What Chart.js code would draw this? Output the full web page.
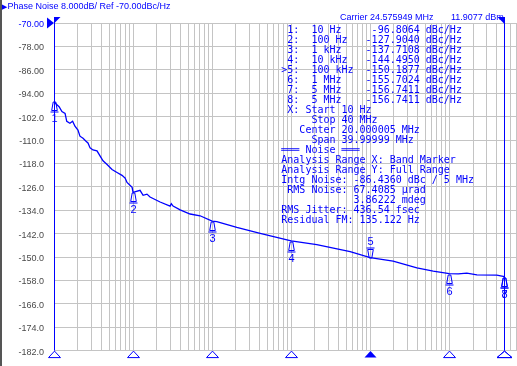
<!DOCTYPE html>
<html><head><meta charset="utf-8">
<script src="https://cdn.jsdelivr.net/npm/chart.js@4/dist/chart.umd.min.js"></script>
<style>
html,body{margin:0;padding:0;background:#fff;overflow:hidden;}
#wrap{position:relative;width:517px;height:366px;overflow:hidden;}
canvas{position:absolute;left:0;top:0;}
.t{position:absolute;color:#0000ff;white-space:pre;font-family:"Liberation Sans",Arial,sans-serif;font-size:9px;line-height:9px;}
#block{position:absolute;left:281.3px;top:25px;color:#0000ff;white-space:pre;font-family:"DejaVu Sans Mono",monospace;font-size:10px;line-height:10px;margin:0;}
#lb{position:absolute;left:0;top:0;width:2px;height:366px;background:#555;}
</style></head>
<body><div id="wrap">
<canvas id="c" width="517" height="366"></canvas>
<div class="t" style="left:2px;top:2.4px"><span style="font-family:'DejaVu Sans';font-size:7px">▶</span>Phase Noise 8.000dB/ Ref -70.00dBc/Hz</div>
<div class="t" style="left:340px;top:13px">Carrier 24.575949 MHz</div>
<div class="t" style="left:451px;top:13px">11.9077 dBm</div>
<pre id="block"></pre>
<div id="lb"></div>
</div>
<script>
// ---- data ----
const traceHz = [10, 10.8, 11.6, 12.6, 13.8, 14.5, 15.9, 17.2, 18.4, 20.1, 21.3, 23.3, 25.4, 26.9, 28.6, 31.1, 35.0, 38.2, 41.7, 46.9, 54.2, 62.7, 72.5, 76, 79.2, 83.9, 97.3, 100, 122.6, 134, 150, 164, 220, 294, 305, 321, 394, 527, 705, 1000, 1146, 2054, 4053, 10000, 21100, 55800, 100000, 195000, 390000, 627000, 1000000, 1300000, 1670000, 2240000, 4000000, 5000000];
const traceDb = [-96.8, -97.9, -98.6, -100.3, -100.9, -103.6, -104.3, -103.6, -105.3, -106.6, -108.7, -109.4, -110.4, -111.0, -112.7, -113.4, -113.7, -115.4, -117.1, -118.4, -120.1, -121.1, -122.1, -122.6, -123.0, -124.5, -126.2, -127.9, -127.2, -128.9, -128.5, -129.5, -131.2, -132.6, -131.8, -132.6, -133.9, -135.3, -135.9, -137.7, -137.9, -139.9, -141.9, -144.5, -145.8, -148.2, -150.19, -151.4, -153.7, -154.8, -155.7, -155.8, -155.5, -156.1, -156.2, -156.74];

const markerIds = ['1', '2', '3', '4', '5', '6', '7', '8'];
const markerHz = [10, 100, 1000, 10000, 100000, 1000000, 5000000, 5000000];
const markerHzText = ['10 Hz', '100 Hz', '1 kHz', '10 kHz', '100 kHz', '1 MHz', '5 MHz', '5 MHz'];
const markerDb = [-96.8064, -127.9040, -137.7108, -144.4950, -150.1877, -155.7024, -156.7411, -156.7411];
const activeMarker = 4;
const bandHz = [10, 5000000];

const yTickValues = [-70, -78, -86, -94, -102, -110, -118, -126, -134, -142, -150, -158, -166, -174, -182];
const yTickLabels = ['-70.00', '-78.00', '-86.00', '-94.00', '-102.0', '-110.0', '-118.0', '-126.0', '-134.0', '-142.0', '-150.0', '-158.0', '-166.0', '-174.0', '-182.0'];

const infoLines = [
  ' X: Start 10 Hz',
  '     Stop 40 MHz',
  '   Center 20.000005 MHz',
  '     Span 39.99999 MHz',
  '═══ Noise ═══',
  'Analysis Range X: Band Marker',
  'Analysis Range Y: Full Range',
  'Intg Noise: -86.4360 dBc / 5 MHz',
  ' RMS Noise: 67.4085 µrad',
  '            3.86222 mdeg',
  'RMS Jitter: 436.54 fsec',
  'Residual FM: 135.122 Hz'
];

const xMinHz = 10, xMaxHz = 7.2e6;
const BLUE = '#0000ff';
const GRID = '#c4c4c4';

// ---- marker table text ----
const tableLines = markerIds.map((id, i) =>
  ((i === activeMarker ? '>' : ' ') + id + ':  ' + markerHzText[i]).padEnd(14) +
  markerDb[i].toFixed(4).padStart(9) + ' dBc/Hz');
document.getElementById('block').textContent = tableLines.concat(infoLines).join('\n');

// ---- overlay plugin: markers, band marker lines ----
const overlay = {
  id: 'overlay',
  afterDatasetsDraw(chart) {
    const { ctx, chartArea: a, scales: { x, y } } = chart;
    ctx.save();
    ctx.strokeStyle = BLUE; ctx.fillStyle = BLUE; ctx.lineWidth = 1;
    // band marker vertical lines
    bandHz.forEach((f, k) => {
      const px = Math.round(x.getPixelForValue(f)) + 0.5;
      ctx.beginPath(); ctx.moveTo(px, a.top - 6); ctx.lineTo(px, a.bottom); ctx.stroke();
      ctx.beginPath();
      const s = k === 0 ? 1 : -1;
      ctx.moveTo(px - 0.5, a.top - 6); ctx.lineTo(px - 0.5 + s * 6.5, a.top - 6); ctx.lineTo(px - 0.5, a.top + 0.5); ctx.closePath(); ctx.fill();
    });
    // reference level arrow
    const ry = y.getPixelForValue(yTickValues[0]);
    ctx.beginPath(); ctx.moveTo(a.left - 7, ry - 5.5); ctx.lineTo(a.left, ry); ctx.lineTo(a.left - 7, ry + 5.5); ctx.closePath(); ctx.fill();
    // trace markers
    ctx.font = '11px "Liberation Sans", Arial, sans-serif';
    ctx.textAlign = 'center'; ctx.textBaseline = 'middle';
    markerHz.forEach((f, i) => {
      const px = Math.round(x.getPixelForValue(f)) + 0.5;
      const py = Math.round(y.getPixelForValue(markerDb[i])) + 0.5;
      const d = i === activeMarker ? -1 : 1;
      ctx.beginPath();
      ctx.moveTo(px - 1.3, py + d * 0.5); ctx.lineTo(px + 1.3, py + d * 0.5);
      ctx.lineTo(px + 2.8, py + d * 9); ctx.lineTo(px - 2.8, py + d * 9); ctx.closePath(); ctx.stroke();
      ctx.beginPath(); ctx.moveTo(px - 4, py + d * 10.5); ctx.lineTo(px + 4, py + d * 10.5); ctx.stroke();
      ctx.fillText(markerIds[i], px, py + d * 17);
      // stimulus indicator at bottom
      const hw = i >= 6 ? 7.5 : 6;
      ctx.beginPath(); ctx.moveTo(px, a.bottom + 0.5); ctx.lineTo(px + hw, a.bottom + 7); ctx.lineTo(px - hw, a.bottom + 7); ctx.closePath();
      if (i === activeMarker) ctx.fill(); else ctx.stroke();
    });
    ctx.restore();
  }
};

new Chart(document.getElementById('c'), {
  type: 'line',
  data: {
    datasets: [{
      data: traceHz.map((f, i) => ({ x: f, y: traceDb[i] })),
      borderColor: BLUE, borderWidth: 1.3, pointRadius: 0, tension: 0, fill: false
    }]
  },
  options: {
    responsive: false, animation: false, events: [],
    layout: { padding: { top: 23, left: 0, right: 0, bottom: 0 } },
    plugins: { legend: { display: false }, tooltip: { enabled: false } },
    scales: {
      x: {
        type: 'logarithmic', min: xMinHz, max: xMaxHz,
        afterBuildTicks(scale) {
          const t = [];
          for (let e = 1; e < 8; e++) for (let m = 1; m <= 9; m++) {
            const v = m * Math.pow(10, e);
            if (v >= xMinHz && v <= xMaxHz) t.push({ value: v });
          }
          scale.ticks = t;
        },
        afterFit(scale) { scale.height = 11; },
        ticks: { display: false },
        grid: { color: GRID, lineWidth: 1, drawTicks: false },
        border: { display: false }
      },
      y: {
        min: -182, max: -70,
        afterBuildTicks(scale) { scale.ticks = yTickValues.slice().reverse().map(v => ({ value: v })); },
        afterFit(scale) { scale.width = 54; },
        ticks: {
          padding: 10, labelOffset: 1.5,
          font: { family: '"Liberation Sans", Arial, sans-serif', size: 9 },
          color: (c) => (c.tick && c.tick.value === yTickValues[0]) ? BLUE : '#4a4a4a',
          callback: (v) => yTickLabels[yTickValues.indexOf(v)]
        },
        grid: { color: GRID, lineWidth: 1, drawTicks: false },
        border: { color: GRID }
      }
    }
  },
  plugins: [overlay]
});
</script>
</body></html>
